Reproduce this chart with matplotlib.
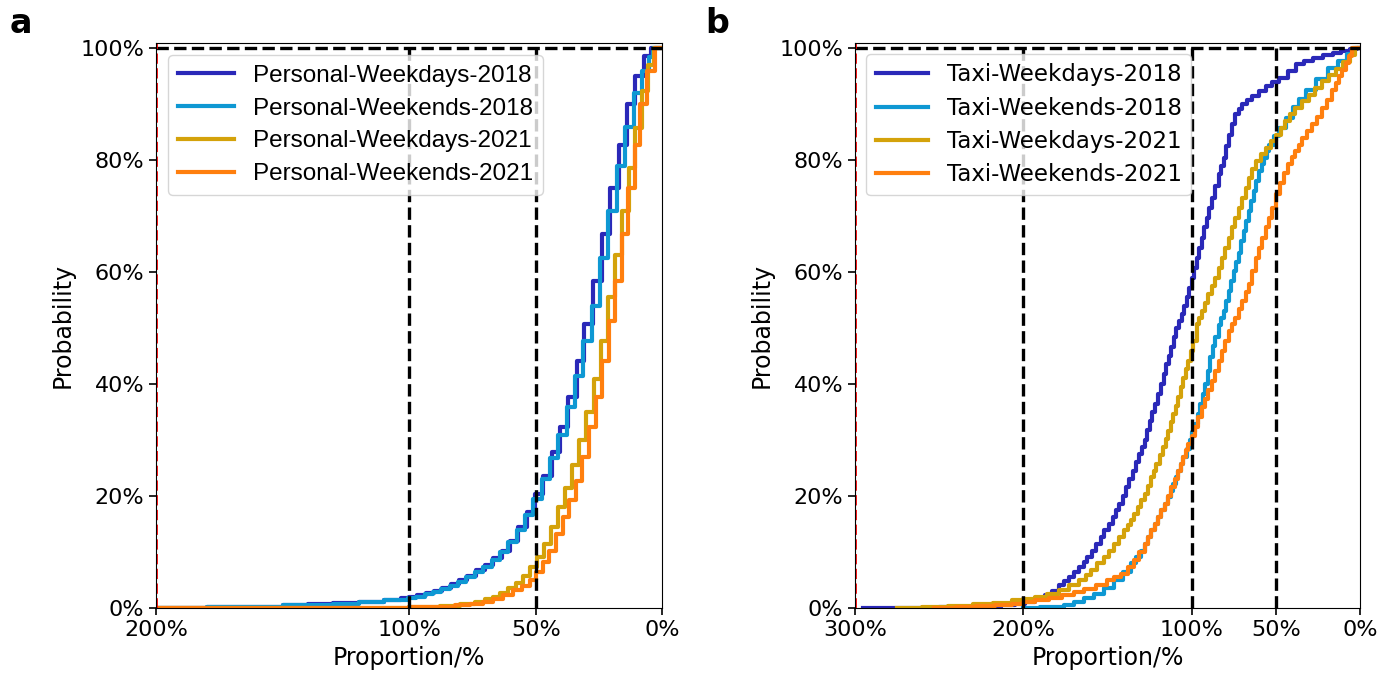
import matplotlib
matplotlib.use("Agg")
import matplotlib.pyplot as plt

# ---- panel a: personal vehicles (x = proportion %, p = cumulative probability)
personal_wd18_x = [200, 180, 165, 150, 140, 130, 120, 110, 103.4, 100.1, 96.8, 93.5, 90.2, 86.9, 83.6, 80.3,
                   77.0, 73.6, 70.1, 66.8, 63.5, 60.2, 56.9, 53.6, 50.3, 47.0, 43.7, 40.4, 37.1, 33.8, 30.9,
                   27.5, 23.9, 20.6, 17.3, 14.0, 10.7, 7.4, 4.5, 0]
personal_wd18_p = [0.001, 0.002, 0.003, 0.005, 0.007, 0.0095, 0.012, 0.015, 0.018, 0.020, 0.023, 0.027, 0.031,
                   0.037, 0.044, 0.050, 0.058, 0.068, 0.077, 0.089, 0.103, 0.121, 0.145, 0.172, 0.204, 0.237,
                   0.279, 0.323, 0.377, 0.442, 0.507, 0.585, 0.668, 0.751, 0.828, 0.900, 0.950, 0.986, 1.0, 1.0]

personal_we18_x = [200, 180, 165, 150, 140, 130, 120, 110, 100.5, 97.2, 93.9, 90.6, 87.3, 84.0, 80.7, 77.4,
                   74.1, 70.8, 67.5, 64.2, 60.9, 57.6, 54.3, 51.0, 47.7, 44.4, 41.1, 37.8, 34.5, 31.2, 27.9,
                   24.6, 21.3, 18.0, 14.7, 11.4, 8.1, 5.5, 3.8, 0]
personal_we18_p = [0.001, 0.002, 0.003, 0.005, 0.0065, 0.0085, 0.011, 0.014, 0.018, 0.021, 0.025, 0.029, 0.034,
                   0.040, 0.047, 0.055, 0.064, 0.074, 0.086, 0.100, 0.118, 0.140, 0.166, 0.196, 0.230, 0.268,
                   0.310, 0.360, 0.415, 0.478, 0.540, 0.625, 0.710, 0.790, 0.860, 0.920, 0.960, 0.985, 1.0, 1.0]

personal_wd21_x = [200, 130, 100, 88, 80, 74, 70, 67, 64, 61, 58.0, 55.2, 52.4, 49.6, 46.8, 44.0, 41.2, 38.4,
                   35.6, 32.8, 30.0, 27.2, 24.4, 21.3, 18.6, 16.0, 13.3, 10.7, 8.0, 5.7, 3.2, 0]
personal_wd21_p = [0.0005, 0.001, 0.002, 0.004, 0.007, 0.011, 0.016, 0.021, 0.028, 0.036, 0.046, 0.058, 0.073,
                   0.092, 0.115, 0.145, 0.180, 0.215, 0.255, 0.300, 0.350, 0.410, 0.478, 0.555, 0.630, 0.709,
                   0.787, 0.858, 0.923, 0.971, 1.0, 1.0]

personal_we21_x = [200, 130, 100, 90, 82, 76, 71, 66.8, 62.9, 58.9, 55.5, 52.4, 49.8, 47.2, 44.6, 42.0, 39.4,
                   36.8, 34.2, 31.6, 29.0, 26.4, 23.8, 21.2, 18.6, 16.0, 13.5, 11.0, 8.7, 6.1, 2.8, 0]
personal_we21_p = [0.0005, 0.001, 0.002, 0.003, 0.005, 0.008, 0.011, 0.017, 0.023, 0.032, 0.040, 0.050, 0.065,
                   0.082, 0.103, 0.133, 0.163, 0.193, 0.228, 0.270, 0.323, 0.377, 0.442, 0.513, 0.585, 0.668,
                   0.751, 0.828, 0.900, 0.959, 1.0, 1.0]

# ---- panel b: taxis
taxi_wd18_x = [295, 270, 250, 230, 213, 205, 199, 193, 187, 183, 179, 176, 173, 170, 167, 164, 162, 159, 157,
               154, 152, 149, 147, 145, 143, 141, 139, 137, 135, 133, 131, 129.5, 128, 126.5, 125, 123.5, 122,
               120, 118, 116.5, 115, 113.5, 112, 110.5, 109, 107.5, 106, 104.5, 103, 101.5, 100, 98.5, 97,
               95.5, 94, 92.5, 91, 89.5, 88, 86, 84, 82.5, 81, 79.5, 78, 76, 74, 72, 70, 67, 64, 60, 56, 52,
               48, 43, 38, 33, 28, 22, 16, 11, 6, 2, 0]
taxi_wd18_p = [0.0005, 0.001, 0.002, 0.003, 0.005, 0.008, 0.011, 0.016, 0.023, 0.031, 0.041, 0.048, 0.056,
               0.065, 0.074, 0.083, 0.091, 0.103, 0.115, 0.127, 0.139, 0.151, 0.163, 0.175, 0.187, 0.201,
               0.216, 0.231, 0.246, 0.261, 0.276, 0.288, 0.300, 0.318, 0.335, 0.350, 0.365, 0.383, 0.400,
               0.418, 0.436, 0.451, 0.466, 0.484, 0.501, 0.513, 0.525, 0.540, 0.555, 0.572, 0.590, 0.608,
               0.626, 0.644, 0.662, 0.680, 0.697, 0.715, 0.733, 0.754, 0.775, 0.790, 0.804, 0.825, 0.846,
               0.865, 0.882, 0.892, 0.900, 0.908, 0.915, 0.924, 0.933, 0.940, 0.947, 0.960, 0.972, 0.978,
               0.983, 0.988, 0.992, 0.995, 0.998, 1.0, 1.0]

taxi_we18_x = [200, 190, 183, 176, 170, 164, 158, 152, 146, 141, 136, 133, 130, 128, 126, 124, 122, 120, 118,
               116, 114, 112.5, 111, 109.5, 108, 106.5, 105, 103, 101, 99.5, 98, 96.5, 95, 93.5, 92, 90.5, 89,
               87.5, 86, 84, 82.5, 81, 79.5, 78, 76.5, 75, 73.5, 72, 70.5, 69, 67.5, 66, 64.5, 63, 61.5, 60,
               58.5, 57, 55.5, 54, 51, 48, 44, 40, 36, 32, 26, 19, 13, 8, 4, 0]
taxi_we18_p = [0.001, 0.0015, 0.0025, 0.006, 0.011, 0.018, 0.026, 0.037, 0.050, 0.065, 0.080, 0.092, 0.103,
               0.115, 0.127, 0.139, 0.151, 0.163, 0.175, 0.187, 0.198, 0.210, 0.222, 0.234, 0.246, 0.258,
               0.270, 0.285, 0.300, 0.315, 0.329, 0.347, 0.365, 0.383, 0.400, 0.424, 0.448, 0.469, 0.484,
               0.505, 0.518, 0.531, 0.549, 0.567, 0.585, 0.603, 0.619, 0.635, 0.655, 0.674, 0.691, 0.709,
               0.727, 0.745, 0.763, 0.781, 0.793, 0.804, 0.816, 0.828, 0.843, 0.858, 0.876, 0.895, 0.910,
               0.925, 0.945, 0.965, 0.978, 0.990, 1.0, 1.0]

taxi_wd21_x = [275, 260, 245, 230, 218, 207, 200, 193, 186, 179, 173, 167, 163, 160, 156, 152, 149, 146, 143,
               140, 138, 136, 134, 132, 130, 128, 126, 124, 122.5, 121, 119, 117, 115.5, 114, 112.5, 111, 109.5,
               108, 106.5, 105, 103.5, 102, 100.5, 99, 97, 95.5, 94, 92, 90, 88, 86, 84, 82, 80, 78, 76, 74,
               72, 70, 68, 66, 64, 62, 59, 56, 53, 50, 47, 44.5, 41.5, 38.5, 34.5, 30.5, 26.5, 22.5, 18.5,
               14.5, 10, 6, 3, 0]
taxi_wd21_p = [0.001, 0.002, 0.004, 0.007, 0.010, 0.014, 0.017, 0.020, 0.026, 0.032, 0.041, 0.050, 0.059,
               0.068, 0.080, 0.091, 0.103, 0.115, 0.127, 0.139, 0.148, 0.157, 0.169, 0.181, 0.193, 0.204,
               0.219, 0.234, 0.246, 0.258, 0.273, 0.288, 0.302, 0.317, 0.332, 0.347, 0.362, 0.377, 0.395,
               0.412, 0.427, 0.442, 0.460, 0.478, 0.507, 0.519, 0.531, 0.546, 0.561, 0.575, 0.590, 0.608,
               0.626, 0.644, 0.662, 0.680, 0.697, 0.715, 0.733, 0.751, 0.769, 0.784, 0.799, 0.811, 0.822,
               0.834, 0.846, 0.858, 0.870, 0.882, 0.894, 0.906, 0.917, 0.929, 0.941, 0.953, 0.963, 0.975,
               0.988, 1.0, 1.0]

taxi_we21_x = [253, 240, 228, 217, 207, 200, 193, 185, 177, 170, 164, 157, 150, 146, 142, 138, 134, 131, 128,
               126, 124, 122, 120, 118, 116, 114, 112, 110, 108, 106.5, 105, 103.5, 102, 100, 98, 96, 94, 92,
               90, 88, 86, 84, 82, 80, 78, 76, 74, 72, 70, 68, 66, 64, 62, 60, 58, 56, 54, 52, 50, 47.5, 45,
               42.5, 40.5, 38.5, 36.5, 34.5, 31.5, 28.5, 25.5, 22.5, 19.5, 16.5, 14.5, 12.5, 10.5, 8.5, 6.5,
               4.5, 0]
taxi_we21_p = [0.0005, 0.002, 0.004, 0.006, 0.008, 0.011, 0.014, 0.018, 0.023, 0.029, 0.035, 0.042, 0.050,
               0.056, 0.062, 0.073, 0.086, 0.100, 0.115, 0.127, 0.139, 0.151, 0.163, 0.175, 0.187, 0.201,
               0.216, 0.231, 0.246, 0.258, 0.270, 0.282, 0.294, 0.308, 0.323, 0.341, 0.359, 0.374, 0.389,
               0.406, 0.424, 0.442, 0.460, 0.478, 0.496, 0.508, 0.519, 0.534, 0.549, 0.564, 0.579, 0.603,
               0.626, 0.644, 0.662, 0.680, 0.697, 0.715, 0.739, 0.760, 0.777, 0.793, 0.805, 0.816, 0.828,
               0.840, 0.853, 0.865, 0.878, 0.893, 0.908, 0.925, 0.938, 0.950, 0.962, 0.974, 0.987, 1.0, 1.0]

personal_labels = ["Personal-Weekdays-2018", "Personal-Weekends-2018",
                   "Personal-Weekdays-2021", "Personal-Weekends-2021"]
taxi_labels = ["Taxi-Weekdays-2018", "Taxi-Weekends-2018", "Taxi-Weekdays-2021", "Taxi-Weekends-2021"]
colors = ["#2a28b8", "#0e98d3", "#d4a20a", "#ff7f0e"]

personal_ticks = [200, 100, 50, 0]
taxi_ticks = [300, 200, 100, 50, 0]
y_ticks = [0, 0.2, 0.4, 0.6, 0.8, 1.0]


def draw_panel(ax, series, labels, xmax, xticks, vlines, legend_prop):
    for (x, p), label, color in zip(series, labels, colors):
        ax.step(x, p, where="post", color=color, lw=3, label=label)
    # reference lines sit on top of the curves
    for v in vlines:
        ax.axvline(v, color="black", ls="--", lw=2.4)
    ax.axhline(1.0, color="black", ls="--", lw=2.4)
    ax.axvline(xmax, color="red", ls="--", lw=2)

    ax.set_xlim(xmax, 0)
    ax.set_ylim(0, 1.01)
    ax.set_xticks(xticks)
    ax.set_xticklabels([f"{t}%" for t in xticks])
    ax.set_yticks(y_ticks)
    ax.set_yticklabels([f"{int(round(t * 100))}%" for t in y_ticks])
    ax.tick_params(labelsize=16, length=5, width=1.2)
    ax.set_xlabel("Proportion/%", fontsize=17)
    ax.set_ylabel("Probability", fontsize=17)
    ax.legend(loc="upper left", prop=legend_prop, handlelength=2.3, labelspacing=0.45)


fig = plt.figure(figsize=(13.94, 6.84), dpi=100)
ax_a = fig.add_axes([0.1119, 0.1107, 0.3633, 0.8269])
ax_b = fig.add_axes([0.6133, 0.1107, 0.3623, 0.8269])

draw_panel(ax_a,
           [(personal_wd18_x, personal_wd18_p), (personal_we18_x, personal_we18_p),
            (personal_wd21_x, personal_wd21_p), (personal_we21_x, personal_we21_p)],
           personal_labels, 200, personal_ticks, [100, 50],
           {"family": "Liberation Sans", "size": 17.5})
draw_panel(ax_b,
           [(taxi_wd18_x, taxi_wd18_p), (taxi_we18_x, taxi_we18_p),
            (taxi_wd21_x, taxi_wd21_p), (taxi_we21_x, taxi_we21_p)],
           taxi_labels, 300, taxi_ticks, [200, 100, 50],
           {"size": 16.5})

fig.text(0.007, 0.952, "a", fontsize=24, fontweight="bold")
fig.text(0.506, 0.952, "b", fontsize=24, fontweight="bold")

fig.savefig("out.png", dpi=100)
